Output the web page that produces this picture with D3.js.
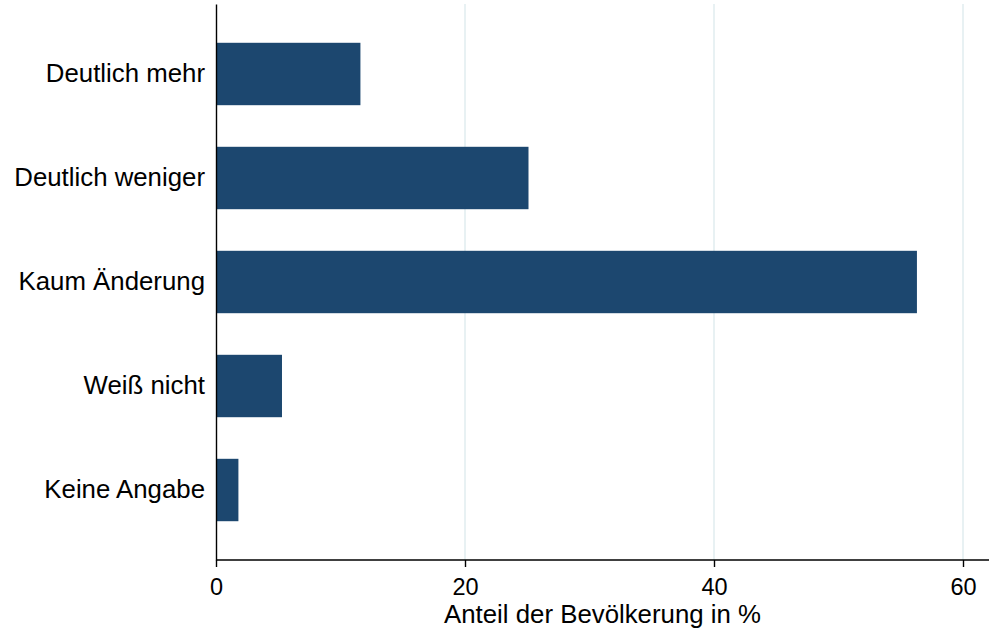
<!DOCTYPE html>
<html>
<head>
<meta charset="utf-8">
<script src="https://cdn.jsdelivr.net/npm/d3@7"></script>
<style>
  body { margin: 0; background: #fff; }
  #chart svg { display: block; }
  text { font-family: "Liberation Sans", Arial, Helvetica, sans-serif; fill: #000; }
</style>
</head>
<body>
<div id="chart"></div>
<script>
const categories = ["Deutlich mehr", "Deutlich weniger", "Kaum Änderung", "Weiß nicht", "Keine Angabe"];
const values = [11.6, 25.1, 56.3, 5.3, 1.8];
const xTicks = [0, 20, 40, 60];
const xTitle = "Anteil der Bevölkerung in %";

function drawBars() {
  const width = 990;
  const height = 632;
  const margin = {top: 4, right: 1, bottom: 72, left: 216};

  const svg = d3.select("#chart").append("svg")
    .attr("width", width)
    .attr("height", height);

  const x = d3.scaleLinear()
    .domain([0, 60])
    .range([margin.left, 963]);

  const y = d3.scaleBand()
    .domain(categories)
    .range([margin.top, height - margin.bottom])
    .paddingInner(0.4)
    .paddingOuter(0.373);

  // lineas de cuadricula
  svg.append("g")
    .selectAll("line")
    .data(xTicks.filter(d => d > 0))
    .join("line")
    .attr("x1", d => x(d))
    .attr("x2", d => x(d))
    .attr("y1", margin.top)
    .attr("y2", height - margin.bottom)
    .attr("stroke", "#e6f0f2")
    .attr("stroke-width", 1.8);

  svg.append("g")
    .selectAll("rect")
    .data(categories)
    .join("rect")
    .attr("x", x(0))
    .attr("y", d => y(d))
    .attr("width", (d, i) => x(values[i]) - x(0))
    .attr("height", y.bandwidth())
    .attr("fill", "#1c476f");

  const xAxis = svg.append("g")
    .attr("transform", `translate(0,${height - margin.bottom})`)
    .call(d3.axisBottom(x).tickValues(xTicks).tickSize(7).tickPadding(11).tickSizeOuter(0));
  xAxis.select(".domain").remove();
  xAxis.append("line")
    .attr("x1", margin.left)
    .attr("x2", width - margin.right)
    .attr("stroke", "#000")
    .attr("stroke-width", 1.4);
  xAxis.selectAll(".tick line").attr("stroke", "#000").attr("stroke-width", 1.4);
  xAxis.selectAll(".tick text").style("font-size", "23.5px");

  const yAxis = svg.append("g")
    .attr("transform", `translate(${margin.left},0)`)
    .call(d3.axisLeft(y).tickSize(0).tickPadding(11));
  yAxis.select(".domain").attr("stroke", "#000").attr("stroke-width", 1.4);
  yAxis.selectAll(".tick text").style("font-size", "25.8px");

  svg.append("text")
    .attr("x", (x(0) + width - margin.right) / 2)
    .attr("y", 623)
    .attr("text-anchor", "middle")
    .style("font-size", "25.8px")
    .text(xTitle);
}

drawBars();
</script>
</body>
</html>
